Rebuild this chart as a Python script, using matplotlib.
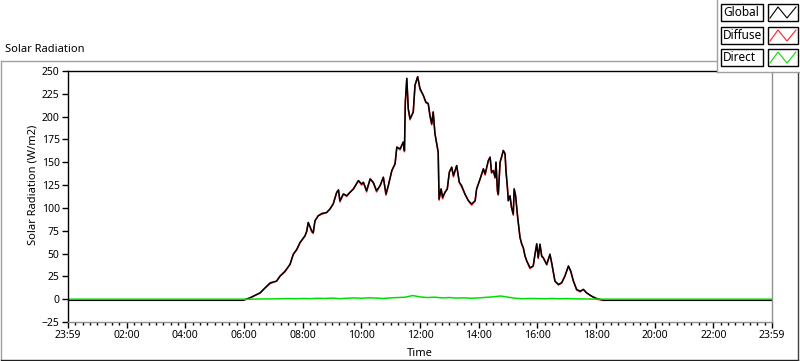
import matplotlib.pyplot as plt
from matplotlib.lines import Line2D
from matplotlib.patches import Rectangle
from matplotlib.ticker import MultipleLocator

# --- data (hours since 23:59, W/m2) ---
global_time = [0.0, 5.97, 6.20, 6.55, 6.72, 6.89, 7.11, 7.23, 7.40, 7.57, 7.68, 7.80, 7.91,
               8.08, 8.14, 8.19, 8.31, 8.36, 8.42, 8.53, 8.65, 8.82, 8.93, 9.04, 9.16, 9.22,
               9.27, 9.39, 9.50, 9.61, 9.73, 9.90, 10.01, 10.07, 10.18, 10.30, 10.41, 10.52,
               10.64, 10.75, 10.84, 10.92, 11.04, 11.15, 11.21, 11.32, 11.43, 11.47, 11.50,
               11.55, 11.60, 11.66, 11.72, 11.77, 11.83, 11.92, 12.00, 12.11, 12.20, 12.28,
               12.34, 12.40, 12.45, 12.51, 12.62, 12.65, 12.72, 12.77, 12.85, 12.93, 13.00,
               13.08, 13.14, 13.25, 13.34, 13.42, 13.53, 13.65, 13.76, 13.88, 13.93, 14.05,
               14.16, 14.22, 14.33, 14.39, 14.44, 14.50, 14.56, 14.59, 14.64, 14.67, 14.73,
               14.78, 14.84, 14.90, 14.93, 14.98, 15.01, 15.07, 15.12, 15.18, 15.21, 15.26,
               15.33, 15.41, 15.47, 15.52, 15.58, 15.64, 15.75, 15.86, 15.92, 15.98, 16.03,
               16.09, 16.15, 16.20, 16.32, 16.43, 16.49, 16.60, 16.72, 16.83, 16.94, 17.06,
               17.14, 17.23, 17.34, 17.46, 17.57, 17.68, 17.85, 18.02, 18.25, 24.0]
global_val = [-1.2, -1.2, 1.4, 6.9, 12.4, 17.9, 19.8, 25.3, 30.8, 38.2, 49.2, 54.7, 62.0,
              69.4, 74.9, 84.0, 74.9, 73.0, 85.9, 91.4, 93.9, 95.0, 98.8, 104.3, 117.0, 119.7,
              107.9, 115.3, 113.4, 117.0, 120.8, 129.9, 126.3, 128.0, 118.9, 131.8, 128.0, 118.9,
              124.4, 133.6, 115.3, 124.4, 140.9, 148.3, 166.6, 164.8, 172.1, 162.9, 216.1,
              241.9, 208.9, 197.8, 201.5, 205.1, 234.5, 243.7, 230.9, 223.5, 216.1, 214.4,
              201.5, 192.3, 205.1, 181.3, 161.1, 109.8, 120.8, 111.5, 117.0, 120.8, 139.1,
              144.6, 135.4, 146.4, 128.0, 124.4, 115.3, 107.9, 104.3, 107.9, 120.8, 131.8,
              142.8, 137.3, 151.9, 155.6, 139.1, 140.9, 133.6, 150.1, 118.9, 115.3, 150.1,
              155.6, 162.9, 159.3, 140.9, 122.5, 107.9, 113.4, 100.5, 93.3, 120.8, 113.4,
              89.5, 67.5, 60.2, 56.5, 47.3, 41.8, 34.5, 36.3, 49.2, 60.6, 45.5,
              60.2, 47.3, 45.5, 38.2, 49.2, 40.0, 19.8, 16.2, 17.9, 25.3, 36.3,
              30.8, 19.8, 10.7, 8.8, 10.7, 6.9, 3.3, 0.8, -1.2, -1.2]
diffuse_val = [-1.2, -1.2, 1.4, 6.9, 12.4, 17.0, 19.8, 25.3, 30.0, 38.2, 49.2, 54.0, 62.0,
               69.4, 74.0, 84.0, 73.5, 72.0, 85.9, 91.4, 93.0, 95.0, 98.8, 104.3, 117.0, 119.7,
               106.5, 115.3, 112.5, 117.0, 120.8, 129.9, 125.0, 128.0, 117.5, 131.8, 127.0, 117.5,
               124.4, 133.6, 114.0, 124.4, 140.9, 148.3, 166.6, 163.5, 172.1, 161.5, 216.1,
               241.9, 207.5, 196.5, 201.5, 205.1, 234.5, 243.7, 229.5, 223.5, 215.0, 214.4,
               200.0, 191.0, 205.1, 181.3, 161.1, 108.5, 120.8, 110.0, 117.0, 120.8, 139.1,
               144.6, 134.0, 146.4, 128.0, 123.0, 115.3, 107.9, 103.0, 107.9, 120.8, 131.8,
               142.8, 136.0, 151.9, 155.6, 138.0, 140.9, 132.5, 150.1, 117.5, 114.0, 150.1,
               155.6, 162.9, 159.3, 140.9, 122.5, 107.9, 112.0, 100.5, 92.0, 120.8, 112.0,
               89.5, 67.5, 60.2, 56.5, 47.3, 41.8, 33.5, 36.3, 49.2, 60.6, 44.5,
               60.2, 46.5, 45.5, 37.5, 49.2, 39.0, 19.8, 15.5, 17.9, 25.3, 36.3,
               30.0, 19.8, 10.0, 8.0, 10.7, 6.9, 3.3, 0.0, -1.2, -1.2]
direct_time = [0.0, 6.0, 6.25, 6.5, 6.75, 7.0, 7.25, 7.5, 7.75, 8.0, 8.25, 8.5, 8.75, 9.0,
               9.25, 9.5, 9.75, 10.0, 10.25, 10.5, 10.75, 11.0, 11.25, 11.5, 11.75, 12.0,
               12.25, 12.5, 12.75, 13.0, 13.25, 13.5, 13.75, 14.0, 14.25, 14.5, 14.75, 15.0,
               15.25, 15.5, 15.75, 16.0, 16.25, 16.5, 16.75, 17.0, 17.25, 17.5, 17.75, 18.0,
               18.25, 18.5, 24.0]
direct_val = [0.0, 0.0, 0.0, 0.2, 0.3, 0.3, 0.5, 0.7, 0.5, 0.8, 0.6, 1.0, 0.8, 1.2,
              0.6, 1.0, 1.4, 1.0, 1.5, 1.2, 0.8, 1.4, 1.8, 2.2, 4.0, 2.5,
              1.8, 2.2, 1.4, 1.8, 1.2, 1.5, 1.0, 1.4, 2.0, 2.6, 3.5, 2.2,
              1.0, 0.5, 0.8, 0.7, 0.5, 0.8, 0.5, 0.7, 0.4, 0.3, 0.2, 0.1,
              0.0, 0.0, 0.0]
tick_hours = [0, 2, 4, 6, 8, 10, 12, 14, 16, 18, 20, 22, 24]
tick_labels = ["23:59", "02:00", "04:00", "06:00", "08:00", "10:00", "12:00",
               "14:00", "16:00", "18:00", "20:00", "22:00", "23:59"]
series_names = ["Global", "Diffuse", "Direct"]
series_colors = ["black", "#ff2020", "#00e000"]

plt.rcParams['font.family'] = ['Noto Sans', 'DejaVu Sans']
FS = 7.5
W, H = 800, 361


def fx(px):
    return px / W


def fy(py):
    return 1 - py / H


fig = plt.figure(figsize=(8, 3.61), dpi=100)
fig.patch.set_facecolor("white")

# outer panel frame
fig.add_artist(Line2D([fx(1), fx(1)], [fy(61), fy(359)], color="#a0a0a0", lw=1))
fig.add_artist(Line2D([fx(1), fx(797)], [fy(61), fy(61)], color="#a0a0a0", lw=1))
fig.add_artist(Line2D([fx(1), fx(798)], [fy(359.5), fy(359.5)], color="#202020", lw=1))
fig.add_artist(Line2D([fx(798), fx(798)], [fy(61), fy(360)], color="#404040", lw=1))

fig.text(fx(5), fy(50), "Solar Radiation", fontsize=FS + 0.5, va="center", ha="left")

ax = fig.add_axes([fx(68), fy(322), fx(704), 251 / H])
ax.plot(global_time, diffuse_val, color=series_colors[1], lw=1.1)
ax.plot(global_time, global_val, color=series_colors[0], lw=1.1)
ax.plot(direct_time, direct_val, color=series_colors[2], lw=1.1)

ax.set_xlim(0, 24)
ax.set_ylim(-25, 250)
ax.set_xticks(tick_hours)
ax.set_xticklabels(tick_labels)
ax.xaxis.set_minor_locator(MultipleLocator(0.25))
ax.yaxis.set_major_locator(MultipleLocator(25))
ax.tick_params(axis="both", which="major", direction="out", length=4, width=1,
               labelsize=FS, pad=2)
ax.tick_params(axis="x", which="minor", direction="out", length=2.5, width=1)
ax.spines["left"].set_color("black")
ax.spines["top"].set_color("black")
ax.spines["right"].set_color("#909090")
ax.spines["bottom"].set_color("#909090")
for s in ax.spines.values():
    s.set_linewidth(1)

fig.text(fx(420), fy(354), "Time", fontsize=FS + 0.5, ha="center", va="center")
fig.text(fx(33), fy(185), "Solar Radiation (W/m2)", fontsize=FS + 0.5,
         rotation=90, ha="center", va="center")

# legend panel
fig.add_artist(Rectangle((fx(717), fy(72)), fx(83), 72 / H, facecolor="white",
                         edgecolor="none", zorder=5))
fig.add_artist(Line2D([fx(717), fx(717)], [fy(0), fy(72)], color="#a0a0a0", lw=1, zorder=6))
fig.add_artist(Line2D([fx(717), fx(800)], [fy(72), fy(72)], color="#a0a0a0", lw=1, zorder=6))
row_top = [4, 27, 49]
for name, col, top in zip(series_names, series_colors, row_top):
    fig.add_artist(Rectangle((fx(721), fy(top + 17)), fx(42), 17 / H, facecolor="white",
                             edgecolor="black", lw=1, zorder=7))
    fig.text(fx(723), fy(top + 8.5), name, fontsize=FS + 1, ha="left", va="center", zorder=8)
    fig.add_artist(Rectangle((fx(768), fy(top + 17)), fx(30), 17 / H, facecolor="white",
                             edgecolor="black", lw=1, zorder=7))
    fig.add_artist(Line2D([fx(770), fx(778), fx(787), fx(796)],
                          [fy(top + 14), fy(top + 3), fy(top + 14), fy(top + 3)],
                          color=col, lw=0.8, zorder=8))

fig.savefig("out.png", dpi=100)
